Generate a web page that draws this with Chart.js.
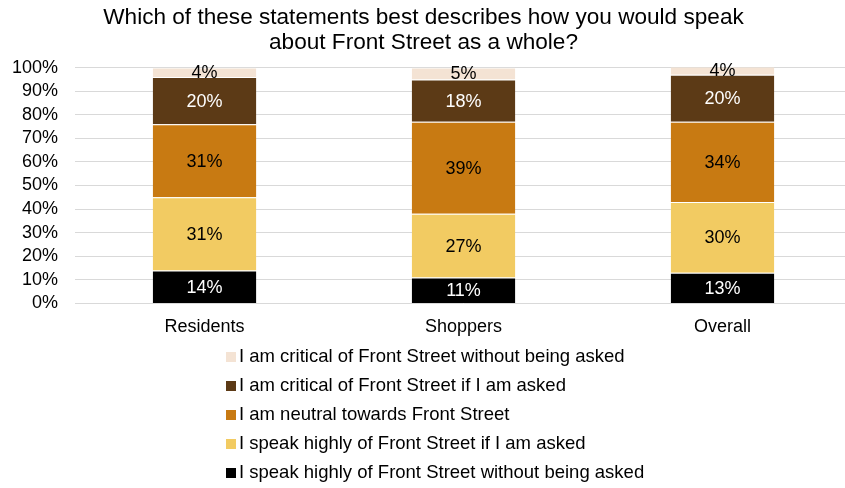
<!DOCTYPE html>
<html>
<head>
<meta charset="utf-8">
<title>Front Street</title>
<script src="https://cdn.jsdelivr.net/npm/chart.js@4.4.1/dist/chart.umd.min.js"></script>
<style>
    html, body { margin: 0; padding: 0; background: #fff; overflow: hidden; }
    #wrap { position: relative; width: 852px; height: 488px; }
    #chartBox { position: absolute; left: -15px; top: 0; width: 867px; height: 343px; }
    #legend { position: absolute; left: 226px; top: 341px; font-family: "Liberation Sans", Arial, sans-serif; font-size: 18.5px; color: #000; }
    .item { height: 29px; line-height: 29px; white-space: nowrap; }
    .swatch { display: inline-block; width: 10px; height: 10px; margin-right: 3px; vertical-align: 0px; }
</style>
</head>
<body>
<div id="wrap">
    <div id="chartBox"><canvas id="speakChart"></canvas></div>
    <div id="legend"></div>
</div>
<script>
// categories and answer shares (percent)
const groups = ['Residents', 'Shoppers', 'Overall'];
const answers = [
    'I speak highly of Front Street without being asked',
    'I speak highly of Front Street if I am asked',
    'I am neutral towards Front Street',
    'I am critical of Front Street if I am asked',
    'I am critical of Front Street without being asked'
];
const highlyUnasked = [14, 11, 13];
const highlyAsked = [31, 27, 30];
const neutral = [31, 39, 34];
const criticalAsked = [20, 18, 20];
const criticalUnasked = [4, 5, 4];
const yTicks = [0, 10, 20, 30, 40, 50, 60, 70, 80, 90, 100];

const colors = ['#000000', '#F2CB62', '#C87A12', '#5C3A16', '#F4E3D4'];
const labelColors = ['#fff', '#000', '#000', '#fff', '#000'];
const series = [highlyUnasked, highlyAsked, neutral, criticalAsked, criticalUnasked];
const FONT = '"Liberation Sans", Arial, sans-serif';

// value labels centred in each segment
const segmentLabels = {
    id: 'segmentLabels',
    afterDatasetsDraw(chart) {
        const ctx = chart.ctx;
        ctx.save();
        ctx.font = '18px ' + FONT;
        ctx.textAlign = 'center';
        ctx.textBaseline = 'middle';
        chart.data.datasets.forEach((ds, i) => {
            chart.getDatasetMeta(i).data.forEach((bar, j) => {
                const mid = (bar.y + bar.base) / 2;
                ctx.fillStyle = labelColors[i];
                ctx.fillText(ds.data[j] + '%', bar.x, mid + 1);
            });
        });
        ctx.restore();
    }
};

new Chart(document.getElementById('speakChart'), {
    type: 'bar',
    data: {
        labels: groups,
        datasets: series.map((vals, i) => ({
            label: answers[i],
            data: vals,
            backgroundColor: colors[i],
            borderColor: 'rgba(255,255,255,0.55)',
            borderWidth: { top: 1, left: 0, right: 0, bottom: 0 },
            borderSkipped: false,
            barPercentage: 0.4,
            categoryPercentage: 1
        }))
    },
    options: {
        responsive: true,
        maintainAspectRatio: false,
        animation: false,
        layout: { padding: { left: 10, right: 0, top: 0, bottom: 0 } },
        plugins: {
            legend: { display: false },
            tooltip: { enabled: false },
            title: {
                display: true,
                text: ['Which of these statements best describes how you would speak', 'about Front Street as a whole?'],
                color: '#000',
                font: { family: FONT, size: 22.6, weight: 'normal', lineHeight: 1.12 },
                padding: { top: 5, bottom: 12 }
            }
        },
        scales: {
            x: {
                stacked: true,
                grid: { display: false },
                border: { display: false },
                ticks: { color: '#000', font: { family: FONT, size: 18 }, padding: 5 }
            },
            y: {
                stacked: true,
                min: 0,
                max: 100,
                afterBuildTicks: (axis) => { axis.ticks = yTicks.map(v => ({ value: v })); },
                grid: { color: '#d9d9d9', lineWidth: 1, drawTicks: false },
                border: { display: false },
                ticks: { color: '#000', font: { family: FONT, size: 18 }, padding: 17, autoSkip: false, callback: v => v + '%' }
            }
        }
    },
    plugins: [segmentLabels]
});

// legend, listed top segment first
const legend = document.getElementById('legend');
for (let i = answers.length - 1; i >= 0; i--) {
    const row = document.createElement('div');
    row.className = 'item';
    row.innerHTML = '<span class="swatch" style="background:' + colors[i] + '"></span>' + answers[i];
    legend.appendChild(row);
}
</script>
</body>
</html>
